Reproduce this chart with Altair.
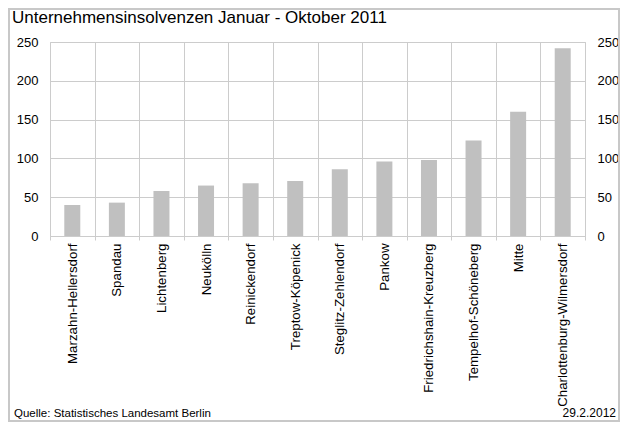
import altair as alt
import pandas as pd

districts = ["Marzahn-Hellersdorf", "Spandau", "Lichtenberg", "Neukölln",
             "Reinickendorf", "Treptow-Köpenick", "Steglitz-Zehlendorf", "Pankow",
             "Friedrichshain-Kreuzberg", "Tempelhof-Schöneberg", "Mitte",
             "Charlottenburg-Wilmersdorf"]
values = [40, 43, 58, 65, 68, 71, 86, 96, 98, 123, 160, 242]
y_ticks = [0, 50, 100, 150, 200, 250]
title_text = "Unternehmensinsolvenzen Januar - Oktober 2011"
source_text = "Quelle: Statistisches Landesamt Berlin"
date_text = "29.2.2012"

df = pd.DataFrame({"Bezirk": districts, "Anzahl": values})

GRID = "#cccccc"
FONT = "Liberation Sans"

xscale = alt.Scale(paddingInner=0, paddingOuter=0)
yscale = alt.Scale(domain=[0, 250], nice=False)

base = alt.Chart(df)

bars = base.mark_bar(size=16, color="#c0c0c0").encode(
    x=alt.X("Bezirk:N", sort=None, scale=xscale,
            axis=alt.Axis(title=None, labelAngle=270, labelFontSize=13.3,
                          labelFont=FONT, labelColor="#000000",
                          tickBand="extent", tickSize=4, tickColor=GRID,
                          grid=True, gridColor=GRID, domainColor=GRID,
                          labelPadding=3, labelLimit=300)),
    y=alt.Y("Anzahl:Q", scale=yscale,
            axis=alt.Axis(title=None, orient="left", values=y_ticks, ticks=False,
                          domain=False, grid=True, gridColor=GRID,
                          labelFontSize=13, labelFont=FONT, labelColor="#000000",
                          labelPadding=12)),
)

right = base.mark_bar(size=16, opacity=0).encode(
    x=alt.X("Bezirk:N", sort=None, scale=xscale, axis=None),
    y=alt.Y("Anzahl:Q", scale=yscale,
            axis=alt.Axis(title=None, orient="right", values=y_ticks, ticks=False,
                          domain=False, grid=False,
                          labelFontSize=13, labelFont=FONT, labelColor="#000000",
                          labelPadding=12)),
)

one = alt.Data(values=[{}])

title = alt.Chart(one).mark_text(align="left", baseline="alphabetic",
                                 fontSize=17, font=FONT, color="#000000").encode(
    x=alt.value(-38), y=alt.value(-19), text=alt.value(title_text))

source = alt.Chart(one).mark_text(align="left", baseline="alphabetic",
                                  fontSize=11.5, font=FONT, color="#000000").encode(
    x=alt.value(-36), y=alt.value(375), text=alt.value(source_text))

date = alt.Chart(one).mark_text(align="right", baseline="alphabetic",
                                fontSize=12, font=FONT, color="#000000").encode(
    x=alt.value(566), y=alt.value(375), text=alt.value(date_text))

frame = alt.Chart(one).mark_rect(fill=None, stroke="#c8c8c8", strokeWidth=2).encode(
    x=alt.value(-41), x2=alt.value(569), y=alt.value(-33), y2=alt.value(379))

chart = alt.layer(frame, bars, right, title, source, date).resolve_axis(
    x="independent", y="independent"
).properties(
    width=535, height=194,
    autosize=alt.AutoSizeParams(type="none"),
    padding={"left": 42, "top": 34, "right": 35, "bottom": 186},
    background="white",
).configure_view(stroke=GRID)

chart.save("out.html", embed_options={"renderer": "svg", "actions": False})
